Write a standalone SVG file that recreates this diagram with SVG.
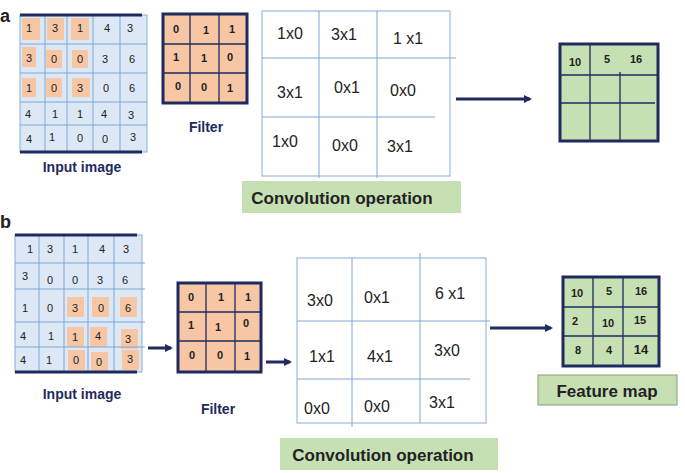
<svg xmlns="http://www.w3.org/2000/svg" width="685" height="473" viewBox="0 0 685 473">
<style>
text{font-family:"Liberation Sans",Arial,sans-serif;fill:#222}
.in{fill:#dce8f5;stroke:#8aaed6;stroke-width:1}
.gl{stroke:#7ea6d3;stroke-width:1;fill:none}
.nv{stroke:#1f2a5e;stroke-width:3;fill:none}
.hl{fill:#f6c6a5}
.c{font-size:11px;fill:#333;text-anchor:middle}
.f{font-size:11px;font-weight:bold;text-anchor:middle}
.op{font-size:16px;text-anchor:middle}
.lab{font-size:14px;font-weight:bold;fill:#1f2a5e;text-anchor:middle}
.gb{fill:#c6e0b4}
.gt{font-size:17px;font-weight:bold;text-anchor:middle}
.fm{fill:#c6e0b4;stroke:#1f2a5e;stroke-width:3}
.fl{stroke:#1f2a5e;stroke-width:1.3;fill:none}
.ft{font-size:11px;font-weight:bold;fill:#1f2a5e;text-anchor:middle}
</style>
<defs><marker id="ah" markerWidth="8" markerHeight="8" refX="6" refY="4" orient="auto" markerUnits="userSpaceOnUse"><path d="M0,0 L8,4 L0,8 Z" fill="#1f2a5e"/></marker></defs>
<text x="0" y="22" style="font-size:18px;font-weight:bold">a</text>
<text x="0" y="228" style="font-size:18px;font-weight:bold">b</text>

<g id="inputA">
<rect x="20" y="15" width="127" height="137" class="in"/>
<rect x="22" y="18" width="18" height="22" class="hl"/><rect x="47" y="18" width="17" height="22" class="hl"/><rect x="71" y="18" width="18" height="22" class="hl"/>
<rect x="22" y="47" width="14" height="20" class="hl"/><rect x="46" y="50" width="16" height="18" class="hl"/><rect x="72" y="50" width="16" height="18" class="hl"/>
<rect x="22" y="78" width="14" height="19" class="hl"/><rect x="46" y="78" width="16" height="19" class="hl"/><rect x="72" y="78" width="18" height="19" class="hl"/>
<path class="gl" d="M45 15V152M67 15V152M93 15V152M120 15V152M20 44H147M20 73H147M20 102H147M20 125H147"/>
<path class="nv" d="M20 15H142M20 152H142"/>
<g class="c">
<text x="29" y="32">1</text><text x="55" y="32">3</text><text x="80" y="32">1</text><text x="107" y="32">4</text><text x="130" y="32">3</text>
<text x="29" y="62">3</text><text x="54" y="63">0</text><text x="80" y="63">0</text><text x="105" y="63">3</text><text x="132" y="63">6</text>
<text x="29" y="92">1</text><text x="54" y="92">0</text><text x="80" y="92">3</text><text x="106" y="92">0</text><text x="132" y="92">6</text>
<text x="28" y="118">4</text><text x="55" y="118">1</text><text x="80" y="118">1</text><text x="104" y="118">4</text><text x="131" y="119">3</text>
<text x="29" y="143">4</text><text x="52" y="141">1</text><text x="80" y="142">0</text><text x="105" y="143">0</text><text x="133" y="141">3</text>
</g>
<text x="82" y="172" class="lab">Input image</text>
</g>

<g id="filterA">
<rect x="163" y="14" width="84" height="89" fill="#f6c6a5" stroke="#1f2a5e" stroke-width="3"/>
<path class="fl" d="M190 14V103M219 14V103M163 44H247M163 73H247"/>
<g class="f"><text x="176" y="33">0</text><text x="206" y="34">1</text><text x="232" y="33">1</text>
<text x="176" y="61">1</text><text x="204" y="62">1</text><text x="230" y="61">0</text>
<text x="178" y="90">0</text><text x="204" y="91">0</text><text x="230" y="92">1</text></g>
<text x="206" y="132" class="lab">Filter</text>
</g>

<g id="convA">
<rect x="262" y="11" width="188" height="165" fill="#fff" stroke="#8aaed6"/>
<path class="gl" d="M319 11V178M377 11V178M262 58H456M262 117H435"/>
<g class="op"><text x="290" y="39">1x0</text><text x="344" y="40">3x1</text><text x="408" y="44">1 x1</text>
<text x="290" y="98">3x1</text><text x="347" y="93">0x1</text><text x="403" y="96">0x0</text>
<text x="285" y="147">1x0</text><text x="345" y="151">0x0</text><text x="400" y="152">3x1</text></g>
<rect x="242" y="181" width="219" height="32" class="gb"/>
<text x="342" y="204" class="gt">Convolution operation</text>
</g>

<g id="outA">
<rect x="560" y="44" width="98" height="97" class="fm"/>
<path class="fl" d="M590 44V141M620 72V141M560 75H658M560 103H655"/>
<g class="ft"><text x="575" y="66">10</text><text x="607" y="63">5</text><text x="636" y="63">16</text></g>
</g>

<g id="inputB">
<rect x="15" y="235" width="127" height="137" class="in"/>
<rect x="67" y="297" width="17" height="20" class="hl"/><rect x="92" y="297" width="17" height="20" class="hl"/><rect x="120" y="297" width="17" height="20" class="hl"/>
<rect x="67" y="327" width="17" height="20" class="hl"/><rect x="90" y="327" width="17" height="20" class="hl"/><rect x="121" y="329" width="17" height="20" class="hl"/>
<rect x="68" y="350" width="17" height="20" class="hl"/><rect x="91" y="352" width="17" height="19" class="hl"/><rect x="122" y="350" width="17" height="20" class="hl"/>
<path class="gl" d="M39 235V372M64 235V372M88 235V372M114 235V372M15 263H145M15 289H145M15 322H145M15 347H145"/>
<path class="nv" d="M15 235H137M15 372H137"/>
<g class="c">
<text x="30" y="253">1</text><text x="50" y="253">3</text><text x="75" y="253">1</text><text x="102" y="253">4</text><text x="126" y="253">3</text>
<text x="25" y="280">3</text><text x="50" y="284">0</text><text x="75" y="284">0</text><text x="100" y="284">3</text><text x="125" y="284">6</text>
<text x="25" y="312">1</text><text x="50" y="312">0</text><text x="75" y="312">3</text><text x="101" y="312">0</text><text x="128" y="312">6</text>
<text x="23" y="340">4</text><text x="51" y="340">1</text><text x="75" y="341">1</text><text x="98" y="340">4</text><text x="128" y="343">3</text>
<text x="23" y="364">4</text><text x="49" y="364">1</text><text x="76" y="364">0</text><text x="99" y="366">0</text><text x="130" y="363">3</text>
</g>
<text x="82" y="399" class="lab">Input image</text>
</g>

<g id="filterB">
<rect x="178" y="283" width="83" height="89" fill="#f6c6a5" stroke="#1f2a5e" stroke-width="3"/>
<path class="fl" d="M206 283V372M235 283V372M178 312H261M178 341H261"/>
<g class="f"><text x="191" y="301">0</text><text x="221" y="301">1</text><text x="248" y="301">1</text>
<text x="191" y="329">1</text><text x="218" y="331">1</text><text x="246" y="327">0</text>
<text x="192" y="359">0</text><text x="220" y="359">0</text><text x="247" y="360">1</text></g>
<text x="218" y="414" class="lab">Filter</text>
</g>

<g id="convB">
<rect x="297" y="258" width="189" height="165" fill="#fff" stroke="#8aaed6"/>
<path class="gl" d="M352 258V427M420 253V423M297 321H490M297 379H470"/>
<g class="op"><text x="320" y="306">3x0</text><text x="377" y="303">0x1</text><text x="450" y="299">6 x1</text>
<text x="322" y="362">1x1</text><text x="380" y="362">4x1</text><text x="447" y="356">3x0</text>
<text x="317" y="414">0x0</text><text x="377" y="412">0x0</text><text x="442" y="408">3x1</text></g>
<rect x="280" y="438" width="218" height="32" class="gb"/>
<text x="383" y="461" class="gt">Convolution operation</text>
</g>

<g id="featureMap">
<rect x="563" y="277" width="96" height="89" class="fm"/>
<path class="fl" d="M593 277V366M623 277V366M563 307H659M563 336H659"/>
<g class="ft"><text x="577" y="297">10</text><text x="609" y="295">5</text><text x="641" y="295">16</text>
<text x="575" y="325">2</text><text x="608" y="327">10</text><text x="640" y="324">15</text>
<text x="578" y="354">8</text><text x="609" y="354">4</text><text x="641" y="354" style="font-size:13px">14</text></g>
<rect x="538" y="375" width="139" height="30" class="gb" stroke="#8a9a80" stroke-width="1"/>
<text x="607" y="397" class="gt">Feature map</text>
</g>

<g id="connectors" stroke="#1f2a5e" stroke-width="3" fill="none" marker-end="url(#ah)">
<path d="M456 99H530"/>
<path d="M148 348H171"/>
<path d="M266 362H290"/>
<path d="M490 328H551"/>
</g>
</svg>
